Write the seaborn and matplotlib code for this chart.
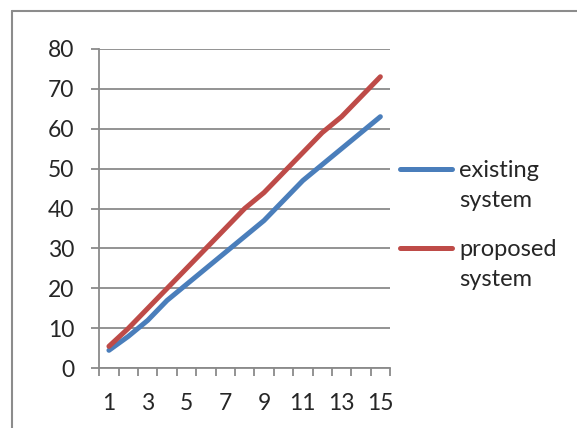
import matplotlib
matplotlib.use("Agg")
import matplotlib.pyplot as plt
from matplotlib.lines import Line2D
from matplotlib.ticker import MultipleLocator, FixedLocator
import seaborn as sns
import pandas as pd
import numpy as np

# 데이터
x_values = list(range(1, 16))
existing = [4.5, 8, 12, 17, 21, 25, 29, 33, 37, 42, 47, 51, 55, 59, 63]
proposed = [5.5, 10, 15, 20, 25, 30, 35, 40, 44, 49, 54, 59, 63, 68, 73]
series_names = ["existing", "proposed"]
series_colors = ["#4A7EBB", "#BE4B48"]

df = pd.DataFrame({
    "x": x_values * 2,
    "value": existing + proposed,
    "series": [series_names[0]] * 15 + [series_names[1]] * 15,
})

sns.set_style("white")
plt.rcParams["font.family"] = ["Lato", "DejaVu Sans"]

fig = plt.figure(figsize=(5.77, 4.28), dpi=100)
ax = fig.add_axes([0.172, 0.1395, 0.504, 0.7465])

# 바깥 테두리 (위, 왼쪽만 보임)
frame_x = 12 / 577
frame_y = 1 - 11 / 428
fig.add_artist(Line2D([frame_x, 1.0], [frame_y, frame_y], transform=fig.transFigure,
                      color="#8c8c8c", linewidth=1.5))
fig.add_artist(Line2D([frame_x, frame_x], [0, frame_y], transform=fig.transFigure,
                      color="#8c8c8c", linewidth=1.5))

sns.lineplot(data=df, x="x", y="value", hue="series", palette=series_colors,
             linewidth=3.6, ax=ax, legend=True)

ax.set_xlim(0.5, 15.5)
ax.set_ylim(0, 80)
ax.yaxis.set_major_locator(MultipleLocator(10))
ax.grid(axis="y", color="#8a8a8a", linewidth=1.3)
ax.set_axisbelow(True)

ax.set_xticks(x_values[::2])
ax.xaxis.set_minor_locator(FixedLocator(np.arange(0.5, 16, 1)))
ax.tick_params(axis="x", which="major", length=0, pad=18, labelsize=16.5)
ax.tick_params(axis="x", which="minor", length=6, width=1.3, color="#8a8a8a", direction="out", bottom=True)
ax.tick_params(axis="y", which="major", length=6, width=1.3, color="#8a8a8a", pad=12, labelsize=16.5, left=True)

for s in ["top", "right"]:
    ax.spines[s].set_visible(False)
for s in ["left", "bottom"]:
    ax.spines[s].set_color("#8a8a8a")
    ax.spines[s].set_linewidth(1.3)

ax.set_xlabel("")
ax.set_ylabel("")

# 범례: 핸들은 첫 줄에 맞추고 둘째 줄 "system" 은 따로 붙임
leg = ax.legend(loc="upper left", bbox_to_anchor=(400 / 577, 1 - 160 / 428),
                bbox_transform=fig.transFigure, frameon=False, fontsize=17,
                handlelength=2.2, handletextpad=0.3, labelspacing=2.45,
                borderaxespad=0, borderpad=0)
for t in leg.get_texts():
    ax.annotate("system", xy=(0, 0.5), xycoords=t, xytext=(0, -21.6),
                textcoords="offset points", ha="left", va="center",
                fontsize=17, zorder=10, annotation_clip=False)

fig.savefig("out.png", dpi=100)
